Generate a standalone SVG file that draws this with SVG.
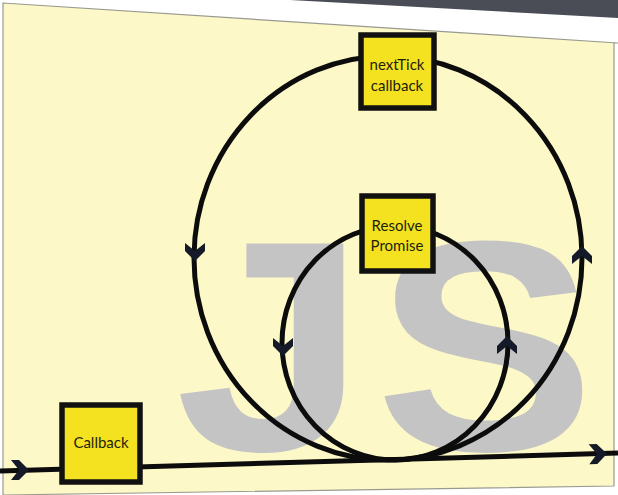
<svg xmlns="http://www.w3.org/2000/svg" width="618" height="495" viewBox="0 0 618 495">
<defs>
<style>
.box{fill:#f4e220;stroke:#111;stroke-width:5.5}
.lbl{font-family:Lato,"Open Sans",sans-serif;font-size:15px;fill:#1e1e0c;text-anchor:middle}
.wire{fill:none;stroke:#0c0c0c;stroke-width:5}
.chev{fill:#141a28}
.js{font-family:"Liberation Sans",Arial,sans-serif;font-weight:bold;font-size:300px;fill:#c4c4c4}
</style>
<path id="chev" d="M-10,-9 L0,-1 L10,-9 L10,-1 L0,9 L-10,-1 Z"/>
</defs>
<rect width="618" height="495" fill="#ffffff"/>
<polygon points="290,0 618,0 618,18" fill="#4a4d56"/>
<polygon points="3,3 618,43 614,43 614,486 3,495" fill="#fcf8c7" stroke="#9a9a90" stroke-width="1.2"/>
<g id="bg-js">
<text class="js" x="175" y="450" transform="translate(175,450) scale(1.15,1) translate(-175,-450)">J</text>
<text class="js" x="375" y="450" transform="translate(375,450) scale(1.1,1) translate(-375,-450)">S</text>
</g>
<g id="connectors">
<line class="wire" x1="0" y1="471" x2="618" y2="453"/>
<ellipse class="wire" cx="388" cy="258" rx="194" ry="202"/>
<ellipse class="wire" cx="395" cy="343" rx="113" ry="117"/>
<use href="#chev" class="chev" transform="translate(20,470) rotate(-90)"/>
<use href="#chev" class="chev" transform="translate(598,454) rotate(-92)"/>
<use href="#chev" class="chev" transform="translate(195,252)"/>
<use href="#chev" class="chev" transform="translate(582,255) rotate(180)"/>
<use href="#chev" class="chev" transform="translate(283,347)"/>
<use href="#chev" class="chev" transform="translate(507,345) rotate(180)"/>
</g>
<g id="nextTick">
<rect class="box" x="361" y="35" width="73" height="73"/>
<text class="lbl" x="397" y="70">nextTick</text>
<text class="lbl" x="397" y="91">callback</text>
</g>
<g id="resolve">
<rect class="box" x="362" y="196" width="71" height="75"/>
<text class="lbl" x="397" y="231">Resolve</text>
<text class="lbl" x="397" y="251">Promise</text>
</g>
<g id="callback">
<rect class="box" x="62" y="405" width="78" height="77"/>
<text class="lbl" x="101" y="448">Callback</text>
</g>
</svg>
